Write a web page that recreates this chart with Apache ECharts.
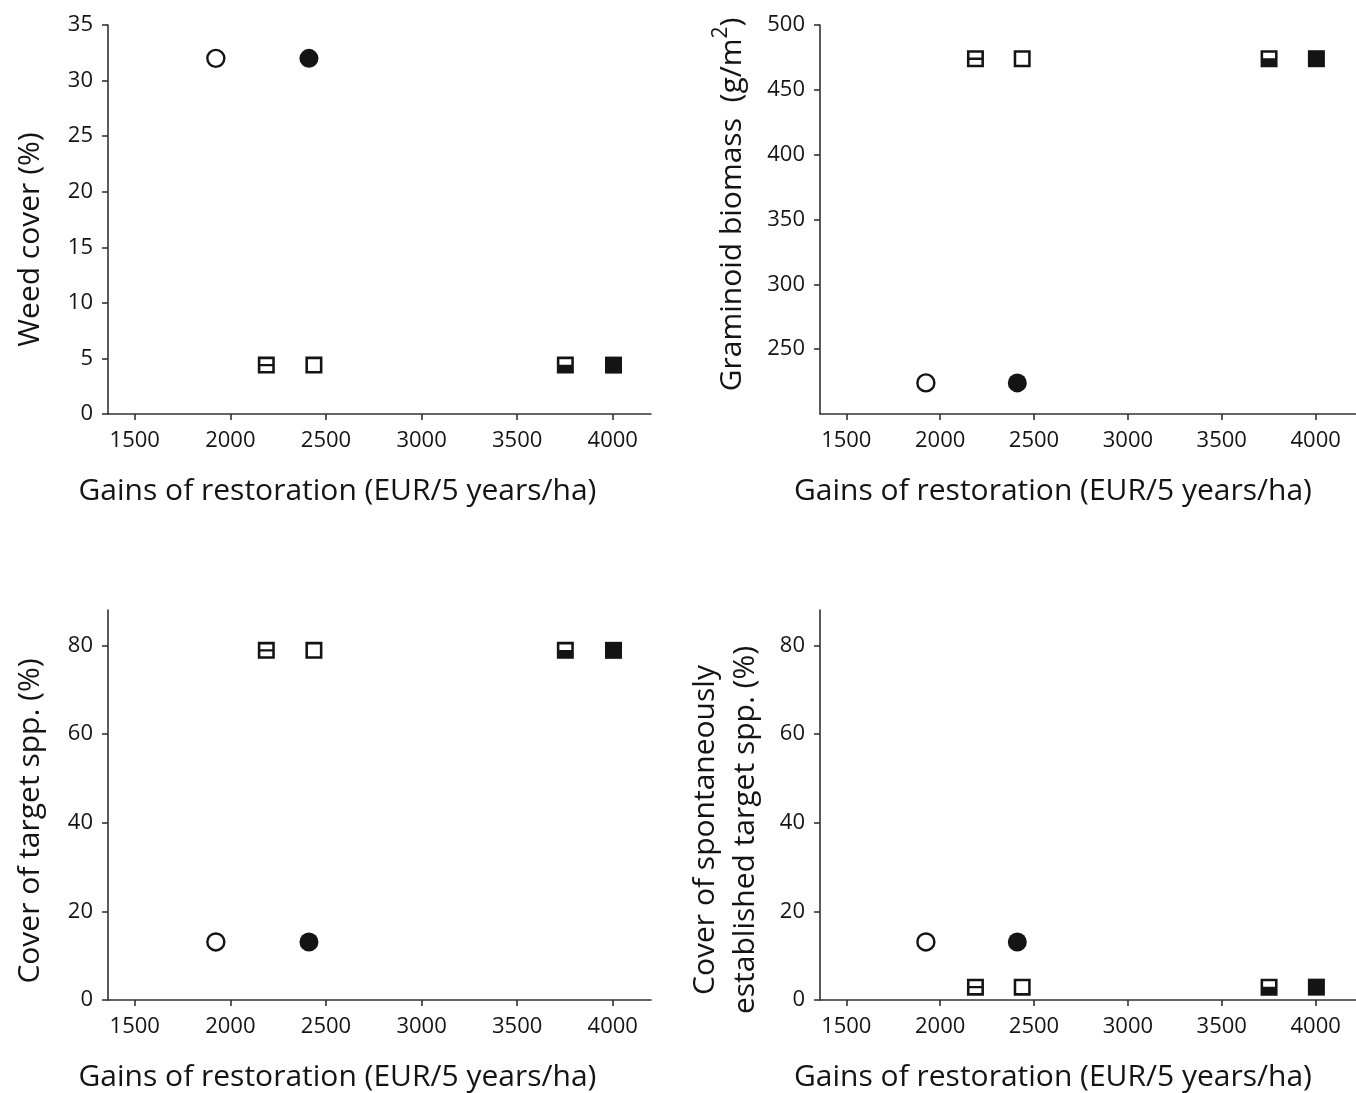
<!DOCTYPE html>
<html>
<head>
<meta charset="utf-8">
<script src="https://cdn.jsdelivr.net/npm/echarts@6/dist/echarts.min.js"></script>
<style>html,body{margin:0;padding:0;background:#fff}#c{width:1356px;height:1093px}</style>
</head>
<body>
<div id="c"></div>
<script>
// Treatments (marker kinds), gains of restoration (EUR/5 years/ha)
const kinds = ['circleOpen', 'circleFilled', 'squareSplit', 'squareOpen', 'squareHalf', 'squareFilled'];
const gains = [1924, 2411, 2188, 2437, 3752, 4004];
const weedCover = [32, 32, 4.4, 4.4, 4.4, 4.4];
const graminoidBiomass = [224, 224, 474, 474, 474, 474];
const targetCover = [13.1, 13.1, 78.9, 78.9, 78.9, 78.9];
const spontaneousCover = [13.1, 13.1, 2.9, 2.9, 2.9, 2.9];
const xTicks = [1500, 2000, 2500, 3000, 3500, 4000];
const yTicksWeed = [0, 5, 10, 15, 20, 25, 30, 35];
const yTicksBiomass = [250, 300, 350, 400, 450, 500];
const yTicksCover = [0, 20, 40, 60, 80];

const INK = '#141414';
const FONT = 'Open Sans';
const outer = 'M0,0H10V10H0Z';
const symbols = {
  squareOpen: 'path://' + outer + 'M1.5,1.5V8.5H8.5V1.5Z',
  squareSplit: 'path://' + outer + 'M1.5,1.5V4.3H8.5V1.5Z M1.5,5.7V8.5H8.5V5.7Z',
  squareHalf: 'path://' + outer + 'M1.5,1.5V4.8H8.5V1.5Z',
  squareFilled: 'path://' + outer
};

function makeData(ys) {
  return gains.map((g, i) => {
    const k = kinds[i];
    if (k === 'circleOpen') return {value: [g, ys[i]], symbol: 'circle', symbolSize: 17, itemStyle: {color: '#fff', borderColor: INK, borderWidth: 2.4, opacity: 1}};
    if (k === 'circleFilled') return {value: [g, ys[i]], symbol: 'circle', symbolSize: 19, itemStyle: {color: INK, borderWidth: 0, opacity: 1}};
    return {value: [g, ys[i]], symbol: symbols[k], symbolSize: 17, itemStyle: {color: INK, borderWidth: 0, opacity: 1}};
  });
}

const grids = [
  {left: 108, top: 25, width: 543, height: 389},
  {left: 820, top: 25, width: 540, height: 389},
  {left: 108, top: 610, width: 543, height: 390},
  {left: 820, top: 610, width: 540, height: 390}
];
const xMax = [4200, 4215, 4200, 4215];
const xNamePadRight = [84, 70, 84, 70];

const axisLine = {show: true, onZero: false, lineStyle: {color: '#333', width: 1.6}};
const axisTickBase = {show: true, inside: false, length: 6, lineStyle: {color: '#333', width: 1.6}};
const labelBase = {color: INK, fontFamily: FONT, fontSize: 22, formatter: v => String(v)};
const nameBase = {color: INK, fontFamily: FONT, fontSize: 30};

const xAxes = grids.map((g, i) => ({
  type: 'value', gridIndex: i, min: 1360, max: xMax[i],
  splitLine: {show: false}, axisLine: axisLine,
  axisTick: Object.assign({}, axisTickBase, {customValues: xTicks}),
  axisLabel: Object.assign({}, labelBase, {customValues: xTicks, margin: 16}),
  name: 'Gains of restoration (EUR/5 years/ha)', nameLocation: 'middle', nameGap: 62,
  nameTextStyle: Object.assign({}, nameBase, {padding: [0, xNamePadRight[i], 0, 0]})
}));

function yAxis(i, min, max, ticks, name, gap, pad, extra) {
  return Object.assign({
    type: 'value', gridIndex: i, min: min, max: max,
    splitLine: {show: false}, axisLine: axisLine,
    axisTick: Object.assign({}, axisTickBase, {customValues: ticks}),
    axisLabel: Object.assign({}, labelBase, {customValues: ticks, margin: 15}),
    name: name, nameLocation: 'middle', nameGap: gap, nameRotate: 90,
    nameTextStyle: Object.assign({}, nameBase, {padding: pad}, extra || {})
  });
}

const yAxes = [
  yAxis(0, 0, 35, yTicksWeed, 'Weed cover (%)', 63, [0, 40, 0, 0]),
  yAxis(1, 200, 500, yTicksBiomass, '{n|Graminoid biomass  (g/m}{s|2}{n|)}', 66, [0, 0, 0, 30], {
    rich: {
      n: {fontFamily: FONT, fontSize: 30, color: INK},
      s: {fontFamily: FONT, fontSize: 21, color: INK, verticalAlign: 'top', padding: [0, 0, 22, 0]}
    }
  }),
  yAxis(2, 0, 88, yTicksCover, 'Cover of target spp. (%)', 63, [0, 32, 0, 0]),
  yAxis(3, 0, 88, yTicksCover, 'Cover of spontaneously\nestablished target spp. (%)', 55, [0, 50, 0, 0], {lineHeight: 40})
];

const seriesY = [weedCover, graminoidBiomass, targetCover, spontaneousCover];
const series = seriesY.map((ys, i) => ({
  type: 'scatter', xAxisIndex: i, yAxisIndex: i, data: makeData(ys),
  itemStyle: {opacity: 1},
  emphasis: {disabled: true}, silent: true, animation: false
}));

const chart = echarts.init(document.getElementById('c'), null, {renderer: 'canvas'});
chart.setOption({
  animation: false,
  backgroundColor: '#fff',
  grid: grids,
  xAxis: xAxes,
  yAxis: yAxes,
  series: series
});
</script>
</body>
</html>
